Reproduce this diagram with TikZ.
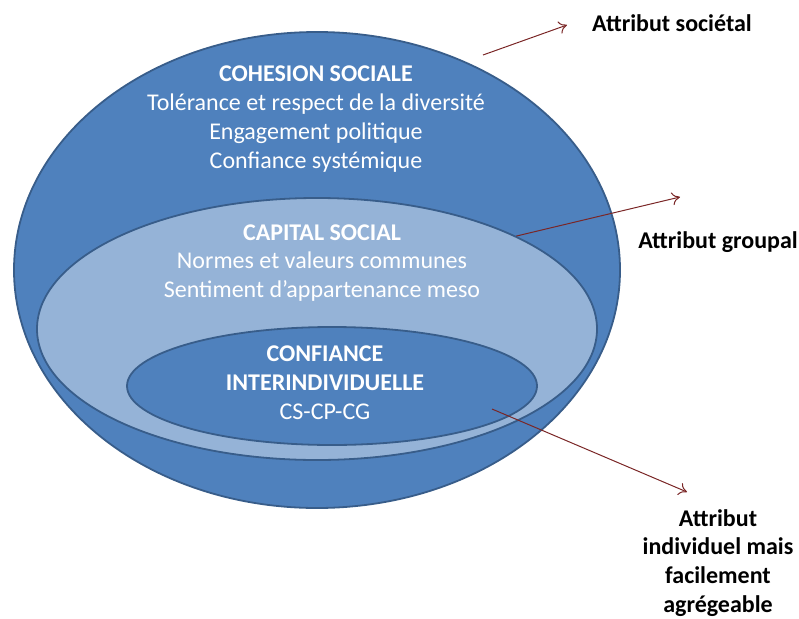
\documentclass[tikz,border=0pt]{standalone}
\usepackage{fontspec}
\setmainfont{Carlito}
\usepackage{tikz}
\usetikzlibrary{positioning,arrows.meta,shapes.geometric}
\definecolor{colorouter}  {RGB}{79 ,129,189}
\definecolor{colormiddle} {RGB}{149,179,215}
\definecolor{colorborder} {RGB}{56 ,93 ,138}
\definecolor{colorarrow}  {RGB}{122,38 ,38 }

\begin{document}
\begin{tikzpicture}[
    x=1pt, y=-1pt,
    >={To[length=8pt,width=13pt]},
    font={\fontsize{24}{28.8}\selectfont},
    ring/.style={ellipse,draw=colorborder,line width=1.8pt,inner sep=0pt},
    txt/.style={text=white,align=center,inner sep=0pt},
    attr/.style={text=black,font={\fontsize{24}{28.8}\selectfont\bfseries},align=center,inner sep=0pt},
    pointer/.style={->,draw=colorarrow,line width=1pt},
]
    \useasboundingbox (0,0) rectangle (799,618);

    % Ellipses
    \node[ring,fill=colorouter,minimum width=606pt,minimum height=476pt] (outer) at (317,270) {};
    \node[ring,fill=colormiddle,minimum width=560pt,minimum height=262pt] (middle) at (317,329) {};
    \node[ring,fill=colorouter,minimum width=410pt,minimum height=118pt] (inner) at (332,386) {};

    % Text in the ellipses
    \node[txt] (cohesion) at (316,119) {\textbf{COHESION SOCIALE}\\Tolérance et respect de la diversité\\Engagement politique\\Confiance systémique};
    \node[txt] (capital) at (322,263) {\textbf{CAPITAL SOCIAL}\\Normes et valeurs communes\\Sentiment d’appartenance meso};
    \node[txt] (confiance) at (325,383) {\textbf{CONFIANCE}\\\textbf{INTERINDIVIDUELLE}\\CS-CP-CG};

    % Attributes
    \node[attr] (societal) at (672,23) {Attribut sociétal};
    \node[attr] (groupal) at (718,242) {Attribut groupal};
    \node[attr] (individuel) at (718,563) {Attribut\\individuel mais\\facilement\\agrégeable};

    % Arrows
    \coordinate (s1) at (483,55);
    \coordinate (e1) at (567,25);
    \coordinate (e2) at (680,197);
    \coordinate (s3) at (492,409);
    \coordinate (e3) at (687,492);
    \draw[pointer] (s1) -- (e1);
    \draw[pointer] (middle.25) -- (e2);
    \draw[pointer] (s3) -- (e3);

\end{tikzpicture}
\end{document}
